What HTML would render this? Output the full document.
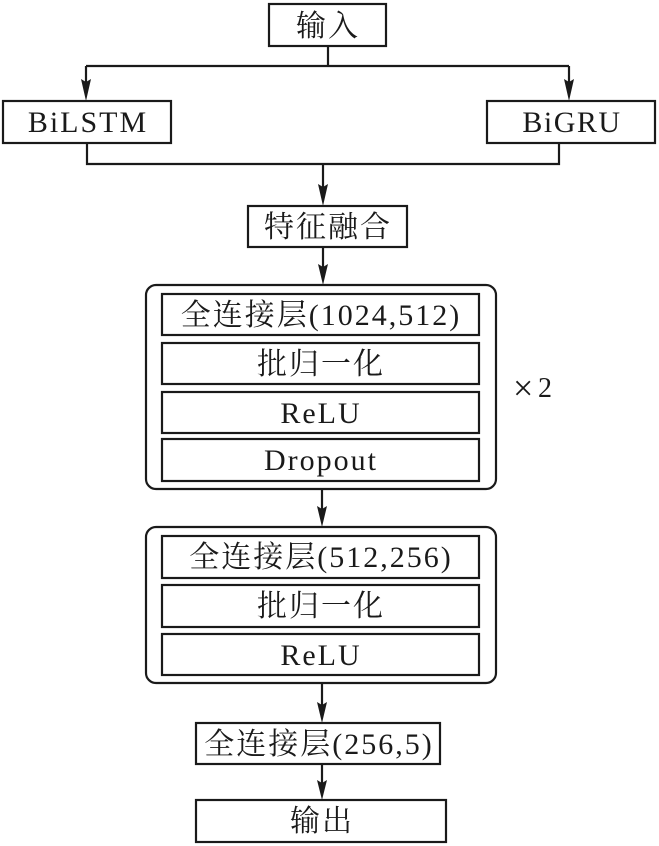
<!DOCTYPE html>
<html><head><meta charset="utf-8"><style>
html,body{margin:0;padding:0;background:#fff;}
svg{display:block;}
text{font-family:"Liberation Serif","Noto Serif CJK SC",serif;font-size:30px;fill:#1a1a1a;letter-spacing:2px;}
</style></head><body>
<svg width="659" height="846" viewBox="0 0 659 846" xmlns="http://www.w3.org/2000/svg">
<g fill="none" stroke="#1a1a1a" stroke-width="2.2">
  <rect x="269" y="4" width="117" height="42"/>
  <rect x="3" y="101" width="168" height="42"/>
  <rect x="487" y="101" width="168" height="42"/>
  <rect x="248" y="206" width="159" height="41"/>
  <rect x="146" y="285" width="350" height="204" rx="10" ry="10"/>
  <rect x="162" y="294" width="317" height="41"/>
  <rect x="162" y="343" width="317" height="41"/>
  <rect x="162" y="392" width="317" height="41"/>
  <rect x="162" y="439" width="317" height="42"/>
  <rect x="146" y="527" width="350" height="156" rx="10" ry="10"/>
  <rect x="162" y="536" width="317" height="42"/>
  <rect x="162" y="585" width="317" height="42"/>
  <rect x="162" y="634" width="317" height="41"/>
  <rect x="196" y="723" width="244" height="41"/>
  <rect x="196" y="800" width="250" height="42"/>
  <path d="M328 46 V66 M86 66 H569 M86 66 V86 M569 66 V86"/>
  <path d="M87 143 V164 H559 V143 M323 164 V190"/>
  <path d="M323 247 V270"/>
  <path d="M322 489 V512"/>
  <path d="M322 683 V708"/>
  <path d="M322 764 V786"/>
</g>
<g fill="#1a1a1a" stroke="none">
  <path d="M86 101 L81 79 L86 82 L91 79 Z"/>
  <path d="M569 101 L564 79 L569 82 L574 79 Z"/>
  <path d="M323 206 L318 184 L323 187 L328 184 Z"/>
  <path d="M323 285 L318 264 L323 267 L328 264 Z"/>
  <path d="M322 527 L317 506 L322 509 L327 506 Z"/>
  <path d="M322 723 L317 702 L322 705 L327 702 Z"/>
  <path d="M322 800 L317 780 L322 783 L327 780 Z"/>
</g>
<g text-anchor="middle">
  <text x="328" y="36">输入</text>
  <text x="88" y="132">BiLSTM</text>
  <text x="572" y="132" style="letter-spacing:1.5px">BiGRU</text>
  <text x="328" y="237">特征融合</text>
  <text x="321" y="325">全连接层(1024,512)</text>
  <text x="321" y="374">批归一化</text>
  <text x="321" y="423">ReLU</text>
  <text x="321" y="470">Dropout</text>
  <text x="321" y="567">全连接层(512,256)</text>
  <text x="321" y="616">批归一化</text>
  <text x="321" y="665">ReLU</text>
  <text x="319" y="754">全连接层(256,5)</text>
  <text x="322" y="831">输出</text>
</g>
<text x="513" y="400" style="font-size:36px;letter-spacing:0">×</text>
<text x="538" y="397" style="font-size:28px;letter-spacing:0">2</text>
</svg>
</body></html>
